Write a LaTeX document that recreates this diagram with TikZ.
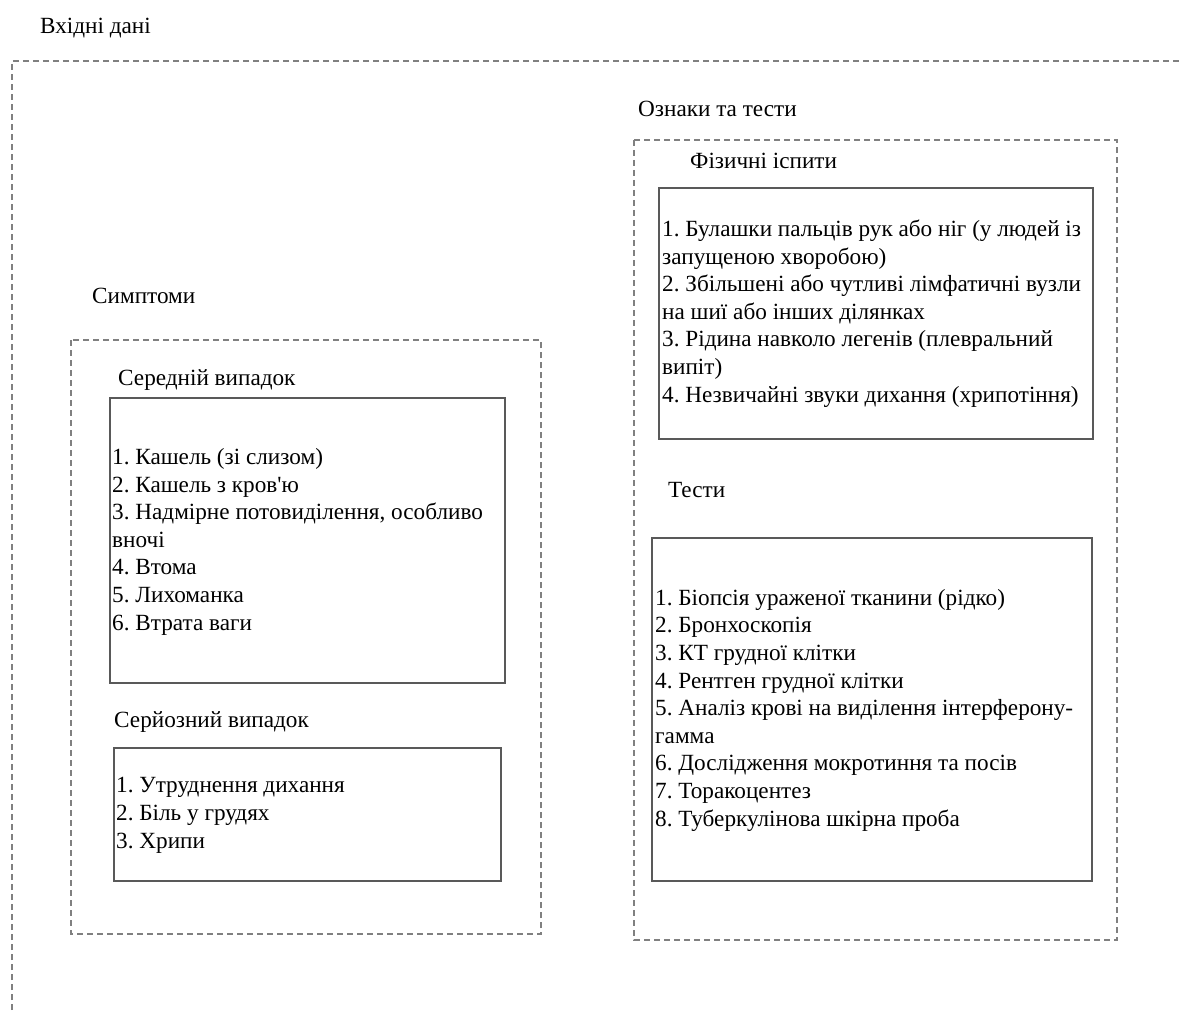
\documentclass[tikz,border=0pt]{standalone}
\usepackage{fontspec}
\setmainfont{Liberation Serif}[Ligatures=TeXOff]
\frenchspacing
\begin{document}
\begin{tikzpicture}[x=1pt,y=-1pt,
  txt/.style={anchor=base west,inner sep=0pt,align=left,
    font=\fontsize{23.2}{27.6}\selectfont,text=black},
  dashbox/.style={draw=black!50,line width=1.6pt,dash pattern=on 6pt off 4pt},
  solidbox/.style={draw=black!65,line width=1.8pt}]
  \useasboundingbox (0,0) rectangle (1179,1014);

  % outer frame (open towards the right and the bottom)
  \node[txt] (inTitle) at (40,34) {Вхідні дані};
  \draw[dashbox] (12,1020) -- (12,61) -- (1190,61);

  % symptoms (list nodes are placed by the baseline of their last line)
  \node[txt] (sympTitle) at (92,303) {Симптоми};
  \draw[dashbox] (71,340) rectangle (541,934);

  \node[txt] (midTitle) at (118,385) {Середній випадок};
  \draw[solidbox] (110,398) rectangle (505,683);
  \node[txt] (midList) at (112,630) {1. Кашель (зі слизом)\\2. Кашель з кров'ю\\3. Надмірне потовиділення, особливо\\вночі\\4. Втома\\5. Лихоманка\\6. Втрата ваги};

  \node[txt] (sevTitle) at (114,727) {Серйозний випадок};
  \draw[solidbox] (114,748) rectangle (501,881);
  \node[txt] (sevList) at (116,848) {1. Утруднення дихання\\2. Біль у грудях\\3. Хрипи};

  % signs and tests
  \node[txt] (signTitle) at (638,117) {Ознаки та тести};
  \draw[dashbox] (634,140) rectangle (1117,940);

  \node[txt] (physTitle) at (690,169) {Фізичні іспити};
  \draw[solidbox] (659,188) rectangle (1093,439);
  \node[txt] (physList) at (662,402) {1. Булашки пальців рук або ніг (у людей із\\запущеною хворобою)\\2. Збільшені або чутливі лімфатичні вузли\\на шиї або інших ділянках\\3. Рідина навколо легенів (плевральний\\випіт)\\4. Незвичайні звуки дихання (хрипотіння)};

  \node[txt] (testTitle) at (668,497) {Тести};
  \draw[solidbox] (652,538) rectangle (1092,881);
  \node[txt] (testList) at (655,826) {1. Біопсія ураженої тканини (рідко)\\2. Бронхоскопія\\3. КТ грудної клітки\\4. Рентген грудної клітки\\5. Аналіз крові на виділення інтерферону-\\гамма\\6. Дослідження мокротиння та посів\\7. Торакоцентез\\8. Туберкулінова шкірна проба};
\end{tikzpicture}
\end{document}
